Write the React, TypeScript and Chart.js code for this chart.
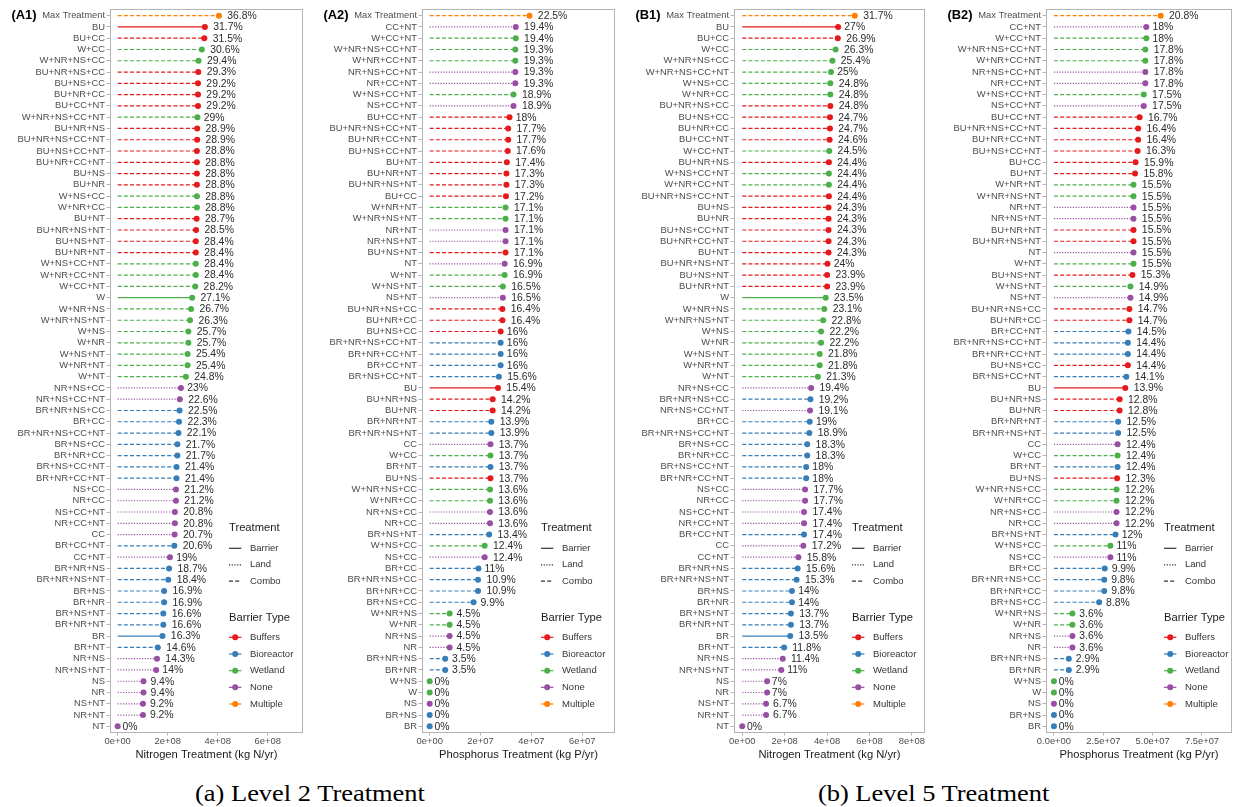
import React, { useEffect, useRef } from "react";
import { Chart, registerables } from "chart.js";

Chart.register(...registerables);

const FONT = "'Liberation Sans', Arial, Helvetica, sans-serif";
Chart.defaults.font.family = FONT;

// ---------------- DATA ----------------
// (A1) Level 2 – Nitrogen
const A1_CATS = ["Max Treatment","BU","BU+CC","W+CC","W+NR+NS+CC","BU+NR+NS+CC","BU+NS+CC","BU+NR+CC","BU+CC+NT","W+NR+NS+CC+NT","BU+NR+NS","BU+NR+NS+CC+NT","BU+NS+CC+NT","BU+NR+CC+NT","BU+NS","BU+NR","W+NS+CC","W+NR+CC","BU+NT","BU+NR+NS+NT","BU+NS+NT","BU+NR+NT","W+NS+CC+NT","W+NR+CC+NT","W+CC+NT","W","W+NR+NS","W+NR+NS+NT","W+NS","W+NR","W+NS+NT","W+NR+NT","W+NT","NR+NS+CC","NR+NS+CC+NT","BR+NR+NS+CC","BR+CC","BR+NR+NS+CC+NT","BR+NS+CC","BR+NR+CC","BR+NS+CC+NT","BR+NR+CC+NT","NS+CC","NR+CC","NS+CC+NT","NR+CC+NT","CC","BR+CC+NT","CC+NT","BR+NR+NS","BR+NR+NS+NT","BR+NS","BR+NR","BR+NS+NT","BR+NR+NT","BR","BR+NT","NR+NS","NR+NS+NT","NS","NR","NS+NT","NR+NT","NT"];
const A1_PCT = [36.8,31.7,31.5,30.6,29.4,29.3,29.2,29.2,29.2,29,28.9,28.9,28.8,28.8,28.8,28.8,28.8,28.8,28.7,28.5,28.4,28.4,28.4,28.4,28.2,27.1,26.7,26.3,25.7,25.7,25.4,25.4,24.8,23,22.6,22.5,22.3,22.1,21.7,21.7,21.4,21.4,21.2,21.2,20.8,20.8,20.7,20.6,19,18.7,18.4,16.9,16.9,16.6,16.6,16.3,14.6,14.3,14,9.4,9.4,9.2,9.2,0];
const A1_TOTAL = 1.1e9;
const A1_TICKS = [0, 2e8, 4e8, 6e8];
const A1_TICK_LABELS = ["0e+00", "2e+08", "4e+08", "6e+08"];

// (A2) Level 2 – Phosphorus
const A2_CATS = ["Max Treatment","CC+NT","W+CC+NT","W+NR+NS+CC+NT","W+NR+CC+NT","NR+NS+CC+NT","NR+CC+NT","W+NS+CC+NT","NS+CC+NT","BU+CC+NT","BU+NR+NS+CC+NT","BU+NR+CC+NT","BU+NS+CC+NT","BU+NT","BU+NR+NT","BU+NR+NS+NT","BU+CC","W+NR+NT","W+NR+NS+NT","NR+NT","NR+NS+NT","BU+NS+NT","NT","W+NT","W+NS+NT","NS+NT","BU+NR+NS+CC","BU+NR+CC","BU+NS+CC","BR+NR+NS+CC+NT","BR+NR+CC+NT","BR+CC+NT","BR+NS+CC+NT","BU","BU+NR+NS","BU+NR","BR+NR+NT","BR+NR+NS+NT","CC","W+CC","BR+NT","BU+NS","W+NR+NS+CC","W+NR+CC","NR+NS+CC","NR+CC","BR+NS+NT","W+NS+CC","NS+CC","BR+CC","BR+NR+NS+CC","BR+NR+CC","BR+NS+CC","W+NR+NS","W+NR","NR+NS","NR","BR+NR+NS","BR+NR","W+NS","W","NS","BR+NS","BR"];
const A2_PCT = [22.5,19.4,19.4,19.3,19.3,19.3,19.3,18.9,18.9,18,17.7,17.7,17.6,17.4,17.3,17.3,17.2,17.1,17.1,17.1,17.1,17.1,16.9,16.9,16.5,16.5,16.4,16.4,16,16,16,16,15.6,15.4,14.2,14.2,13.9,13.9,13.7,13.7,13.7,13.7,13.6,13.6,13.6,13.6,13.4,12.4,12.4,11,10.9,10.9,9.9,4.5,4.5,4.5,4.5,3.5,3.5,0,0,0,0,0];
const A2_TOTAL = 1.745e8;
const A2_TICKS = [0, 2e7, 4e7, 6e7];
const A2_TICK_LABELS = ["0e+00", "2e+07", "4e+07", "6e+07"];

// (B1) Level 5 – Nitrogen
const B1_CATS = ["Max Treatment","BU","BU+CC","W+CC","W+NR+NS+CC","W+NR+NS+CC+NT","W+NS+CC","W+NR+CC","BU+NR+NS+CC","BU+NS+CC","BU+NR+CC","BU+CC+NT","W+CC+NT","BU+NR+NS","W+NS+CC+NT","W+NR+CC+NT","BU+NR+NS+CC+NT","BU+NS","BU+NR","BU+NS+CC+NT","BU+NR+CC+NT","BU+NT","BU+NR+NS+NT","BU+NS+NT","BU+NR+NT","W","W+NR+NS","W+NR+NS+NT","W+NS","W+NR","W+NS+NT","W+NR+NT","W+NT","NR+NS+CC","BR+NR+NS+CC","NR+NS+CC+NT","BR+CC","BR+NR+NS+CC+NT","BR+NS+CC","BR+NR+CC","BR+NS+CC+NT","BR+NR+CC+NT","NS+CC","NR+CC","NS+CC+NT","NR+CC+NT","BR+CC+NT","CC","CC+NT","BR+NR+NS","BR+NR+NS+NT","BR+NS","BR+NR","BR+NS+NT","BR+NR+NT","BR","BR+NT","NR+NS","NR+NS+NT","NS","NR","NS+NT","NR+NT","NT"];
const B1_PCT = [31.7,27,26.9,26.3,25.4,25,24.8,24.8,24.8,24.7,24.7,24.6,24.5,24.4,24.4,24.4,24.4,24.3,24.3,24.3,24.3,24.3,24,23.9,23.9,23.5,23.1,22.8,22.2,22.2,21.8,21.8,21.3,19.4,19.2,19.1,19,18.9,18.3,18.3,18,18,17.7,17.7,17.4,17.4,17.4,17.2,15.8,15.6,15.3,14,14,13.7,13.7,13.5,11.8,11.4,11,7,7,6.7,6.7,0];
const B1_TOTAL = 1.675e9;
const B1_TICKS = [0, 2e8, 4e8, 6e8, 8e8];
const B1_TICK_LABELS = ["0e+00", "2e+08", "4e+08", "6e+08", "8e+08"];

// (B2) Level 5 – Phosphorus
const B2_CATS = ["Max Treatment","CC+NT","W+CC+NT","W+NR+NS+CC+NT","W+NR+CC+NT","NR+NS+CC+NT","NR+CC+NT","W+NS+CC+NT","NS+CC+NT","BU+CC+NT","BU+NR+NS+CC+NT","BU+NR+CC+NT","BU+NS+CC+NT","BU+CC","BU+NT","W+NR+NT","W+NR+NS+NT","NR+NT","NR+NS+NT","BU+NR+NT","BU+NR+NS+NT","NT","W+NT","BU+NS+NT","W+NS+NT","NS+NT","BU+NR+NS+CC","BU+NR+CC","BR+CC+NT","BR+NR+NS+CC+NT","BR+NR+CC+NT","BU+NS+CC","BR+NS+CC+NT","BU","BU+NR+NS","BU+NR","BR+NR+NT","BR+NR+NS+NT","CC","W+CC","BR+NT","BU+NS","W+NR+NS+CC","W+NR+CC","NR+NS+CC","NR+CC","BR+NS+NT","W+NS+CC","NS+CC","BR+CC","BR+NR+NS+CC","BR+NR+CC","BR+NS+CC","W+NR+NS","W+NR","NR+NS","NR","BR+NR+NS","BR+NR","W+NS","W","NS","BR+NS","BR"];
const B2_PCT = [20.8,18,18,17.8,17.8,17.8,17.8,17.5,17.5,16.7,16.4,16.4,16.3,15.9,15.8,15.5,15.5,15.5,15.5,15.5,15.5,15.5,15.5,15.3,14.9,14.9,14.7,14.7,14.5,14.4,14.4,14.4,14.1,13.9,12.8,12.8,12.5,12.5,12.4,12.4,12.4,12.3,12.2,12.2,12.2,12.2,12,11,11,9.9,9.8,9.8,8.8,3.6,3.6,3.6,3.6,2.9,2.9,0,0,0,0,0];
const B2_TOTAL = 2.6e8;
const B2_TICKS = [0, 2.5e7, 5e7, 7.5e7];
const B2_TICK_LABELS = ["0.0e+00", "2.5e+07", "5.0e+07", "7.5e+07"];

const N_TITLE = "Nitrogen Treatment (kg N/yr)";
const P_TITLE = "Phosphorus Treatment (kg P/yr)";

const TREATMENT_NAMES = ["Barrier", "Land", "Combo"];
const BARRIER_NAMES = ["Buffers", "Bioreactor", "Wetland", "None", "Multiple"];

// ---------------- STYLE ----------------
const COLORS: Record<string, string> = {
  BU: "#E41A1C",
  BR: "#377EB8",
  W: "#4DAF4A",
  NONE: "#984EA3",
  MAX: "#FF7F00",
};
const LEGEND_COLORS = [COLORS.BU, COLORS.BR, COLORS.W, COLORS.NONE, COLORS.MAX];
const DASH: Record<string, number[]> = {
  barrier: [],
  land: [1.2, 1.5],
  combo: [4, 2.2],
};
const DASH_LIST = [DASH.barrier, DASH.land, DASH.combo];
const DOT_R = 3;

function barrierOf(label: string): string {
  if (label === "Max Treatment") return "MAX";
  if (label.startsWith("BU")) return "BU";
  if (label.startsWith("BR")) return "BR";
  if (label === "W" || label.startsWith("W+")) return "W";
  return "NONE";
}
function treatOf(label: string): string {
  const b = barrierOf(label);
  if (b === "MAX") return "combo";
  if (b === "NONE") return "land";
  return label.includes("+") ? "combo" : "barrier";
}

interface Spec {
  tag: string;
  cats: string[];
  pct: number[];
  total: number;
  ticks: number[];
  tickLabels: string[];
  xmin: number;
  xmax: number;
  xtitle: string;
  plotLeft: number;
  plotRight: number;
  legendX: number;
}

const PANELS: Spec[] = [
  { tag: "(A1)", cats: A1_CATS, pct: A1_PCT, total: A1_TOTAL, ticks: A1_TICKS, tickLabels: A1_TICK_LABELS, xmin: -0.306e8, xmax: 7.41e8, xtitle: N_TITLE, plotLeft: 110, plotRight: 304, legendX: 229 },
  { tag: "(A2)", cats: A2_CATS, pct: A2_PCT, total: A2_TOTAL, ticks: A2_TICKS, tickLabels: A2_TICK_LABELS, xmin: -0.302e7, xmax: 7.29e7, xtitle: P_TITLE, plotLeft: 422, plotRight: 616, legendX: 541 },
  { tag: "(B1)", cats: B1_CATS, pct: B1_PCT, total: B1_TOTAL, ticks: B1_TICKS, tickLabels: B1_TICK_LABELS, xmin: -0.389e8, xmax: 8.62e8, xtitle: N_TITLE, plotLeft: 734, plotRight: 926, legendX: 852 },
  { tag: "(B2)", cats: B2_CATS, pct: B2_PCT, total: B2_TOTAL, ticks: B2_TICKS, tickLabels: B2_TICK_LABELS, xmin: -0.402e7, xmax: 9.02e7, xtitle: P_TITLE, plotLeft: 1046, plotRight: 1233, legendX: 1164 },
];

const CANVAS_H = 770;
const Y_AXIS_W = 110;

function buildConfig(spec: Spec, canvasLeft: number): any {
  const datasets = spec.cats.map((c, i) => {
    const col = COLORS[barrierOf(c)];
    const t = treatOf(c);
    const v = (spec.pct[i] / 100) * spec.total;
    return {
      type: "line",
      label: c,
      data: [
        { x: 0, y: c },
        { x: v, y: c },
      ],
      borderColor: col,
      backgroundColor: col,
      borderWidth: t === "barrier" ? 1.4 : 1.2,
      borderDash: DASH[t],
      pointRadius: [0, DOT_R],
      pointHoverRadius: [0, DOT_R],
      pointBackgroundColor: col,
      pointBorderWidth: 0,
      tension: 0,
      fill: false,
      clip: false,
    };
  });

  const decor = {
    id: "decor",
    afterDatasetsDraw(chart: any) {
      const { ctx, chartArea: ca, scales } = chart;
      const x = scales.x;
      const y = scales.y;
      ctx.save();
      // panel border
      ctx.strokeStyle = "#b3b3b3";
      ctx.lineWidth = 1;
      ctx.setLineDash([]);
      ctx.strokeRect(Math.round(ca.left) + 0.5, Math.round(ca.top) - 0.5, Math.round(ca.right - ca.left) - 1, Math.round(ca.bottom - ca.top) + 1);
      // value labels
      ctx.font = `10.4px ${FONT}`;
      ctx.fillStyle = "#2b2b2b";
      ctx.textBaseline = "middle";
      ctx.textAlign = "left";
      spec.cats.forEach((c, i) => {
        const v = spec.pct[i];
        const px = x.getPixelForValue((v / 100) * spec.total);
        const py = y.getPixelForValue(i);
        const t = `${v}%`;
        const w = ctx.measureText(t).width;
        ctx.fillText(t, px + 0.25 * w + 1, py + 0.5);
      });
      ctx.restore();
    },
    afterDraw(chart: any) {
      const { ctx } = chart;
      ctx.save();
      // panel tag
      ctx.font = `bold 12.9px ${FONT}`;
      ctx.fillStyle = "#000";
      ctx.textBaseline = "middle";
      ctx.textAlign = "left";
      ctx.fillText(spec.tag, spec.plotLeft - 98.5 - canvasLeft, 15.8);
      // legend
      const lx = spec.legendX - canvasLeft;
      ctx.fillStyle = "#1a1a1a";
      ctx.font = `11.2px ${FONT}`;
      ctx.fillText("Treatment", lx, 528.3);
      ctx.fillText("Barrier Type", lx, 618.3);
      ctx.font = `9.5px ${FONT}`;
      const ty = [548.3, 564.8, 581.2];
      TREATMENT_NAMES.forEach((n, k) => {
        ctx.setLineDash(DASH_LIST[k]);
        ctx.strokeStyle = "#333";
        ctx.lineWidth = 1.2;
        ctx.beginPath();
        ctx.moveTo(lx, ty[k]);
        ctx.lineTo(lx + 12.4, ty[k]);
        ctx.stroke();
        ctx.setLineDash([]);
        ctx.fillStyle = "#333";
        ctx.fillText(n, lx + 21, ty[k]);
      });
      const by = [637.3, 654, 670.7, 687.3, 704];
      BARRIER_NAMES.forEach((n, k) => {
        const col = LEGEND_COLORS[k];
        ctx.setLineDash([]);
        ctx.strokeStyle = col;
        ctx.lineWidth = 1.2;
        ctx.beginPath();
        ctx.moveTo(lx, by[k]);
        ctx.lineTo(lx + 12.4, by[k]);
        ctx.stroke();
        ctx.fillStyle = col;
        ctx.beginPath();
        ctx.arc(lx + 6.2, by[k], DOT_R, 0, Math.PI * 2);
        ctx.fill();
        ctx.fillStyle = "#333";
        ctx.fillText(n, lx + 21, by[k]);
      });
      ctx.restore();
    },
  };

  return {
    type: "line",
    data: { datasets },
    plugins: [decor],
    options: {
      responsive: false,
      maintainAspectRatio: false,
      animation: false,
      devicePixelRatio: 1,
      indexAxis: "y",
      events: [],
      layout: { padding: { left: 0, right: 2, top: 10, bottom: 0 } },
      plugins: {
        legend: { display: false },
        tooltip: { enabled: false },
        title: { display: false },
      },
      scales: {
        x: {
          type: "linear",
          position: "bottom",
          min: spec.xmin,
          max: spec.xmax,
          afterBuildTicks: (ax: any) => {
            ax.ticks = spec.ticks.map((v) => ({ value: v }));
          },
          afterFit: (ax: any) => {
            ax.height = CANVAS_H - 732;
          },
          ticks: {
            autoSkip: false,
            maxRotation: 0,
            padding: 0,
            color: "#4d4d4d",
            font: { size: 9.4, family: FONT },
            callback: (v: number) => {
              const k = spec.ticks.indexOf(v);
              return k >= 0 ? spec.tickLabels[k] : "";
            },
          },
          grid: {
            display: true,
            drawOnChartArea: false,
            drawTicks: true,
            tickLength: 3.5,
            color: "#b3b3b3",
          },
          border: { display: false },
          title: {
            display: true,
            text: spec.xtitle,
            color: "#1a1a1a",
            font: { size: 11.2, family: FONT },
            padding: { top: 0, bottom: 8.3 },
          },
        },
        y: {
          type: "category",
          labels: spec.cats,
          offset: true,
          afterFit: (ax: any) => {
            ax.width = Y_AXIS_W;
          },
          ticks: {
            autoSkip: false,
            padding: 1.5,
            color: "#4d4d4d",
            font: { size: 9.4, family: FONT },
          },
          grid: {
            display: true,
            drawOnChartArea: false,
            drawTicks: true,
            tickLength: 3.5,
            color: "#b3b3b3",
            offset: false,
          },
          border: { display: false },
        },
      },
    },
  };
}

function Panel({ spec }: { spec: Spec }) {
  const ref = useRef<HTMLCanvasElement>(null);
  const left = spec.plotLeft - Y_AXIS_W;
  const width = spec.plotRight - left + 2;
  useEffect(() => {
    if (!ref.current) return;
    const chart = new Chart(ref.current, buildConfig(spec, left));
    return () => chart.destroy();
  }, []);
  return (
    <canvas
      ref={ref}
      width={width}
      height={CANVAS_H}
      style={{ position: "absolute", left, top: 0, width, height: CANVAS_H, display: "block" }}
    />
  );
}

const CAPTION_STYLE: React.CSSProperties = {
  position: "absolute",
  top: 780,
  width: 620,
  textAlign: "center",
  fontFamily: "'Liberation Serif', 'Times New Roman', serif",
  fontSize: 23,
  lineHeight: "28px",
  color: "#000",
  whiteSpace: "nowrap",
};

export default function App() {
  return (
    <div style={{ position: "absolute", left: 0, top: 0, width: 1235, height: 807, background: "#fff", overflow: "hidden" }}>
      {PANELS.map((p) => (
        <Panel key={p.tag} spec={p} />
      ))}
      <div style={{ ...CAPTION_STYLE, left: 0 }}>
        <span style={{ display: "inline-block", transform: "scaleX(1.15)" }}>(a) Level 2 Treatment</span>
      </div>
      <div style={{ ...CAPTION_STYLE, left: 623.5 }}>
        <span style={{ display: "inline-block", transform: "scaleX(1.15)" }}>(b) Level 5 Treatment</span>
      </div>
    </div>
  );
}
